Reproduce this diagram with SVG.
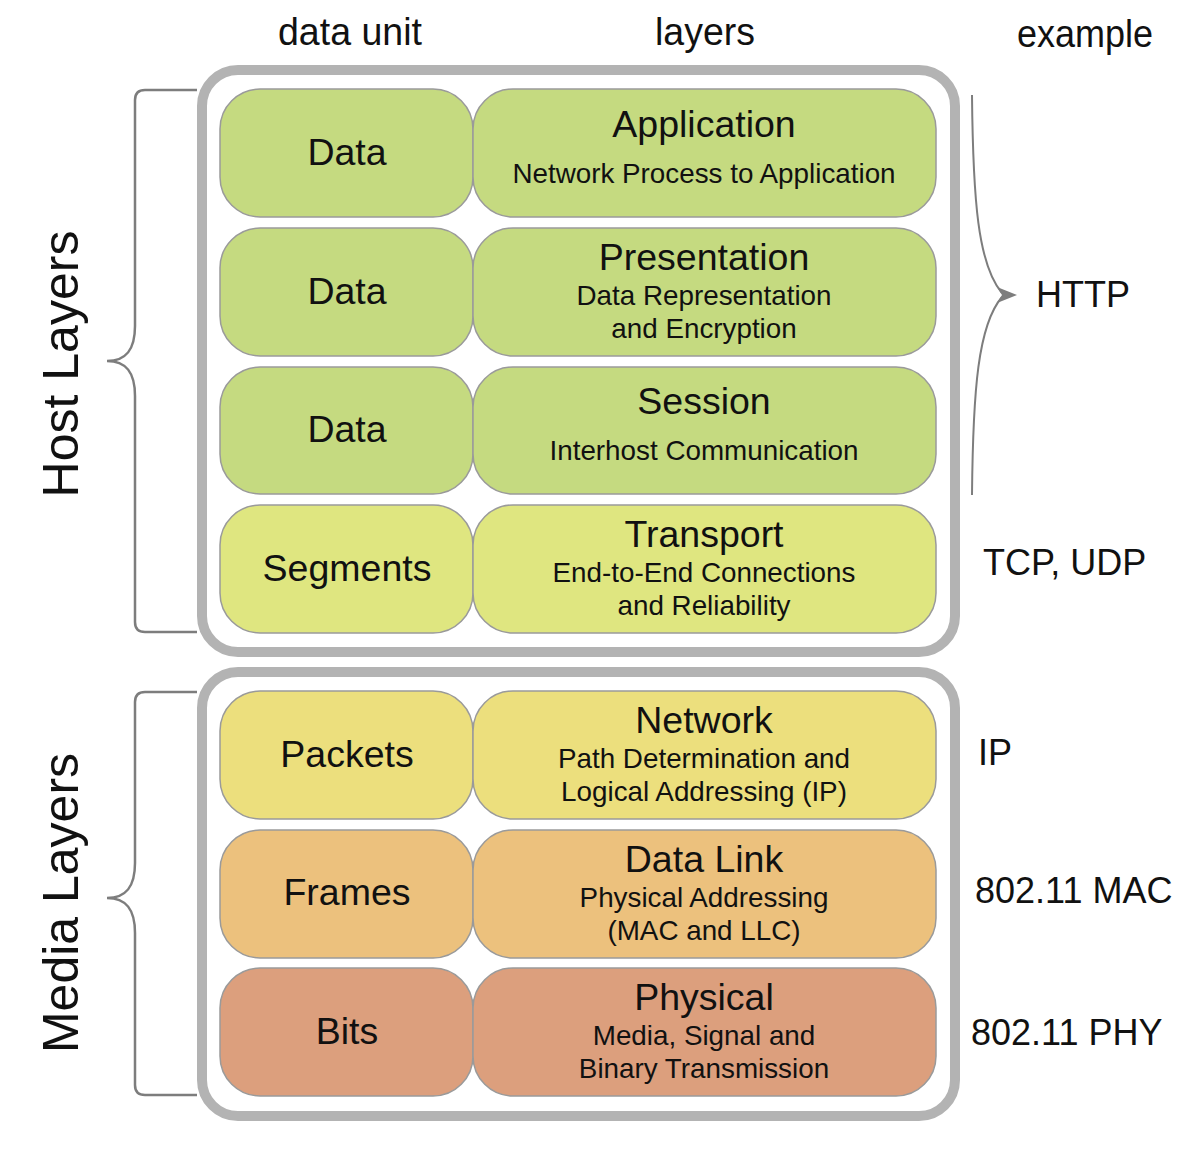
<svg xmlns="http://www.w3.org/2000/svg" width="1200" height="1158" viewBox="0 0 1200 1158">
<style>
text{font-family:"Liberation Sans",Arial,sans-serif;fill:#111;}
.hdr{font-size:38px;}
.side{font-size:50px;text-anchor:middle;}
.unit{font-size:37.5px;text-anchor:middle;}
.ttl{font-size:37.5px;text-anchor:middle;}
.sub{font-size:27.8px;text-anchor:middle;}
.ex{font-size:36px;}
.frame{fill:#fff;stroke:#b3b3b3;stroke-width:10;}
.cell{stroke:#9a9a9a;stroke-width:1.5;}
.brk{fill:none;stroke:#7d7d7d;stroke-width:2.5;}
.g1{fill:#c5da80;}
.g2{fill:#dfe680;}
.g3{fill:#ecdf7d;}
.g4{fill:#ecc17d;}
.g5{fill:#dc9f7d;}
</style>
<rect width="1200" height="1158" fill="#fff"/>

<g id="headers">
<text class="hdr" x="278" y="45" textLength="144" lengthAdjust="spacingAndGlyphs">data unit</text>
<text class="hdr" x="655" y="45" textLength="100" lengthAdjust="spacingAndGlyphs">layers</text>
<text class="hdr" x="1017" y="47" textLength="136" lengthAdjust="spacingAndGlyphs">example</text>
</g>

<g id="frames">
<rect class="frame" x="202" y="70" width="753" height="582" rx="36"/>
<rect class="frame" x="202" y="672" width="753" height="444" rx="36"/>
</g>

<g id="connectors">
<path class="brk" d="M197,90 H145 Q135,90 135,100 V326 C135,350 126,361 107,361 C126,361 135,372 135,396 V622 Q135,632 145,632 H197"/>
<path class="brk" d="M197,692 H145 Q135,692 135,702 V863 C135,887 126,898 107,898 C126,898 135,909 135,933 V1085 Q135,1095 145,1095 H197"/>
<path fill="none" stroke="#7d7d7d" stroke-width="2" d="M972,95 C973,200 978,265 1002,293 M1002,297 C978,325 973,390 972,495"/>
<polygon fill="#7d7d7d" points="997,287 1017,295 997,303 1002,295"/>
</g>

<g id="side-labels">
<text class="side" transform="translate(78,364) rotate(-90)">Host Layers</text>
<text class="side" transform="translate(78,903) rotate(-90)">Media Layers</text>
</g>

<g id="row-application">
<rect class="cell g1" x="220" y="89" width="253" height="128" rx="40"/>
<text class="unit" x="347" y="165">Data</text>
<rect class="cell g1" x="473" y="89" width="463" height="128" rx="40"/>
<text class="ttl" x="704" y="137">Application</text>
<text class="sub" x="704" y="183">Network Process to Application</text>
</g>

<g id="row-presentation">
<rect class="cell g1" x="220" y="228" width="253" height="128" rx="40"/>
<text class="unit" x="347" y="304">Data</text>
<rect class="cell g1" x="473" y="228" width="463" height="128" rx="40"/>
<text class="ttl" x="704" y="270">Presentation</text>
<text class="sub" x="704" y="305">Data Representation</text>
<text class="sub" x="704" y="338">and Encryption</text>
</g>

<g id="row-session">
<rect class="cell g1" x="220" y="367" width="253" height="127" rx="40"/>
<text class="unit" x="347" y="442">Data</text>
<rect class="cell g1" x="473" y="367" width="463" height="127" rx="40"/>
<text class="ttl" x="704" y="414">Session</text>
<text class="sub" x="704" y="460">Interhost Communication</text>
</g>

<g id="row-transport">
<rect class="cell g2" x="220" y="505" width="253" height="128" rx="40"/>
<text class="unit" x="347" y="581">Segments</text>
<rect class="cell g2" x="473" y="505" width="463" height="128" rx="40"/>
<text class="ttl" x="704" y="547">Transport</text>
<text class="sub" x="704" y="582">End-to-End Connections</text>
<text class="sub" x="704" y="615">and Reliability</text>
</g>

<g id="row-network">
<rect class="cell g3" x="220" y="691" width="253" height="128" rx="40"/>
<text class="unit" x="347" y="767">Packets</text>
<rect class="cell g3" x="473" y="691" width="463" height="128" rx="40"/>
<text class="ttl" x="704" y="733">Network</text>
<text class="sub" x="704" y="768">Path Determination and</text>
<text class="sub" x="704" y="801">Logical Addressing (IP)</text>
</g>

<g id="row-datalink">
<rect class="cell g4" x="220" y="830" width="253" height="128" rx="40"/>
<text class="unit" x="347" y="905">Frames</text>
<rect class="cell g4" x="473" y="830" width="463" height="128" rx="40"/>
<text class="ttl" x="704" y="872">Data Link</text>
<text class="sub" x="704" y="907">Physical Addressing</text>
<text class="sub" x="704" y="940">(MAC and LLC)</text>
</g>

<g id="row-physical">
<rect class="cell g5" x="220" y="968" width="253" height="128" rx="40"/>
<text class="unit" x="347" y="1044">Bits</text>
<rect class="cell g5" x="473" y="968" width="463" height="128" rx="40"/>
<text class="ttl" x="704" y="1010">Physical</text>
<text class="sub" x="704" y="1045">Media, Signal and</text>
<text class="sub" x="704" y="1078">Binary Transmission</text>
</g>

<g id="examples">
<text class="ex" x="1036" y="307">HTTP</text>
<text class="ex" x="983" y="575">TCP, UDP</text>
<text class="ex" x="978" y="765">IP</text>
<text class="ex" x="975" y="903">802.11 MAC</text>
<text class="ex" x="971" y="1045">802.11 PHY</text>
</g>
</svg>
